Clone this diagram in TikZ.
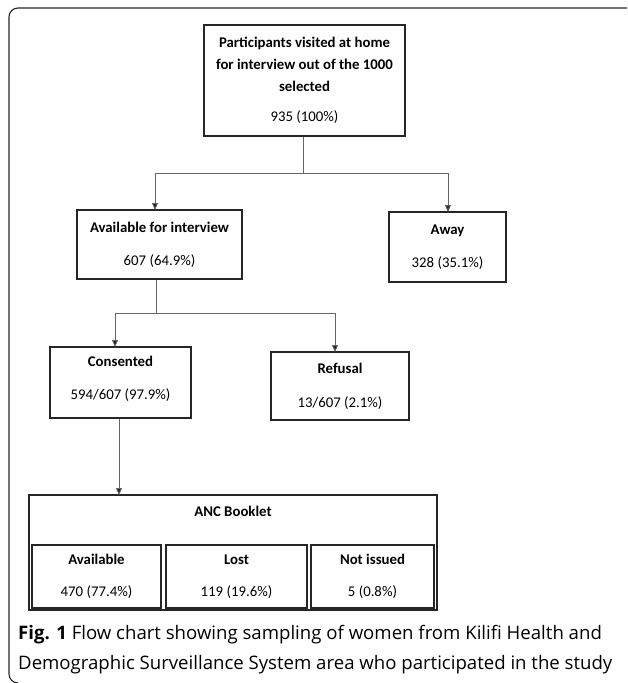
\documentclass[tikz,border=0pt]{standalone}
\usepackage{fontspec}
\setmainfont{Carlito}
\newfontfamily\capfont{Open Sans}
\usetikzlibrary{arrows.meta}
\begin{document}
\begin{tikzpicture}[x=1pt,y=-1pt,
  box/.style={draw=black!85,line width=1.1pt,inner sep=0pt,align=center,
    font=\fontsize{14.8}{22}\selectfont},
  txt/.style={inner sep=0pt,align=center,font=\fontsize{14.8}{22}\selectfont},
  conn/.style={draw=black!60,line width=0.8pt},
  arr/.style={conn,-{Triangle[length=7pt,width=6pt,fill=black!85]}}]
\useasboundingbox (0,0) rectangle (627,683);
% frame
\draw[line width=1.1pt,black!85,rounded corners=9pt] (627,8) -- (9,8) -- (9,683) -- (16,683);
% boxes
\node[box,minimum width=201,minimum height=111] (top) at (304.5,80.5)
  {\textbf{Participants visited at home}\\\textbf{for interview out of the 1000}\\\textbf{selected}\\[8pt]935 (100\%)};
\node[box,minimum width=165,minimum height=69] (avail) at (159.5,244.5)
  {\textbf{Available for interview}\\[11pt]607 (64.9\%)};
\node[box,minimum width=117,minimum height=70] (away) at (447.5,247)
  {\textbf{Away}\\[11pt]328 (35.1\%)};
\node[box,minimum width=141,minimum height=71] (cons) at (120.5,382.5) {};
\node[txt] (const) at (120.5,378.5) {\textbf{Consented}\\[11pt]594/607 (97.9\%)};
\node[box,minimum width=138,minimum height=68] (ref) at (340,386)
  {\textbf{Refusal}\\[12pt]13/607 (2.1\%)};
\node[box,minimum width=408,minimum height=115] (anc) at (233,552.5) {};
\node[txt,font=\fontsize{14.8}{22}\selectfont\bfseries] (anct) at (233,511) {ANC Booklet};
\node[box,minimum width=129,minimum height=63] (sa) at (96.5,576.5)
  {\textbf{Available}\\[10pt]470 (77.4\%)};
\node[box,minimum width=141,minimum height=63] (sl) at (236.5,576.5)
  {\textbf{Lost}\\[10pt]119 (19.6\%)};
\node[box,minimum width=123,minimum height=63] (sn) at (372.5,576.5)
  {\textbf{Not issued}\\[10pt]5 (0.8\%)};
% connectors
\coordinate (j1) at (303,173);
\draw[conn] (top.south -| j1) -- (j1);
\draw[arr] (j1) -| (155,210);
\draw[arr] (j1) -| (448,212);
\coordinate (j2) at (156,313);
\draw[conn] (avail.south -| j2) -- (j2);
\draw[arr] (j2) -| (115,347);
\draw[arr] (j2) -| (335,352);
\draw[arr] (cons.south -| 119,0) -- (119,495);
% caption
\node[anchor=west,inner sep=0pt,align=left,font=\capfont\fontsize{18.6}{30}\selectfont] (cap) at (18,650)
  {\textbf{Fig. 1} Flow chart showing sampling of women from Kilifi Health and\\Demographic Surveillance System area who participated in the study};
\end{tikzpicture}
\end{document}
